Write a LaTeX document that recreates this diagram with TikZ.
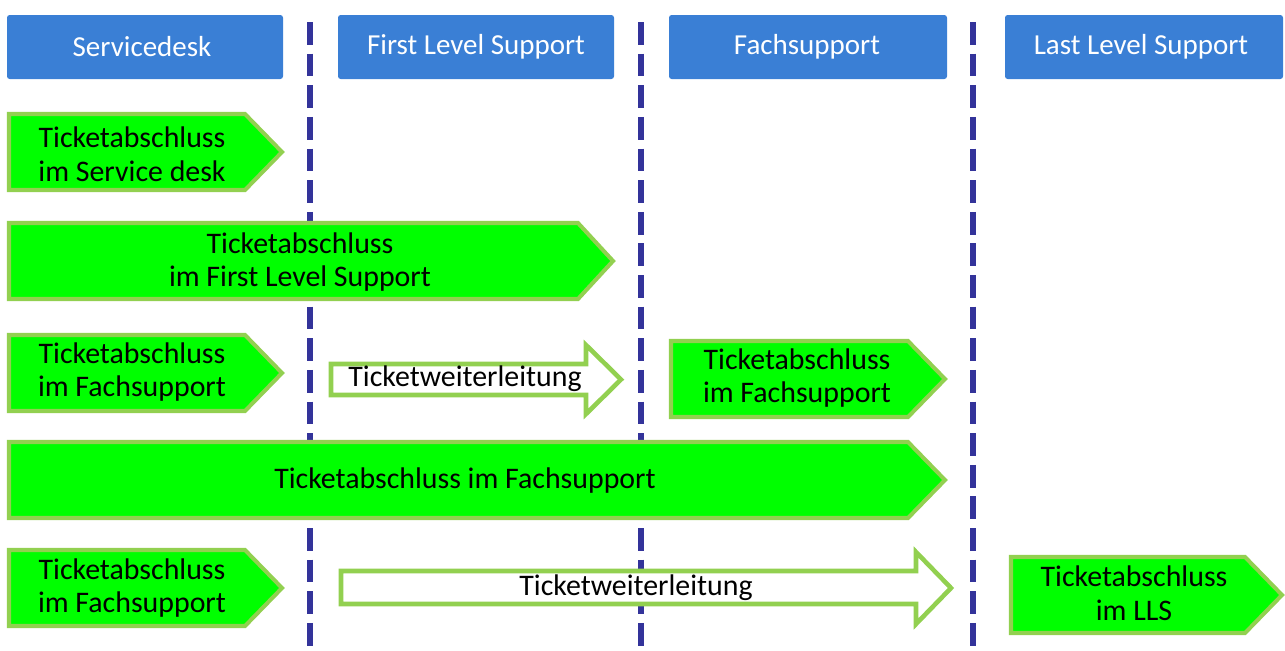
\documentclass[tikz,border=0pt]{standalone}
\usepackage{fontspec}
\setmainfont{Carlito}
\definecolor{hdrblue}{HTML}{3A7FD5}
\definecolor{sepblue}{HTML}{33339A}
\definecolor{boxgreen}{HTML}{00FF00}
\definecolor{edgegreen}{HTML}{92D050}
\begin{document}
\begin{tikzpicture}[x=0.02cm,y=-0.02cm,
  hdr/.style={fill=hdrblue,draw=none,rounded corners=1.5pt},
  hdrtext/.style={text=white,font=\fontsize{16.5}{19}\selectfont,inner sep=0pt},
  sep/.style={draw=sepblue,line width=3.4pt,dash pattern=on 13pt off 5pt},
  gbox/.style={fill=boxgreen,draw=edgegreen,line width=2.3pt,line join=miter},
  warrow/.style={fill=white,draw=edgegreen,line width=2.6pt,line join=miter},
  btext/.style={text=black,font=\fontsize{17}{19.3}\selectfont,align=center,inner sep=0pt}]
\useasboundingbox (0,0) rectangle (1285,650);
% headers
\fill[hdr] (7,15) rectangle (283,79);
\fill[hdr] (338,15) rectangle (614,79);
\fill[hdr] (669,15) rectangle (947,79);
\fill[hdr] (1005,15) rectangle (1283,79);
\node[hdrtext] (h1) at (142,47) {Servicedesk};
\node[hdrtext] (h2) at (476,47) {First Level Support};
\node[hdrtext] (h3) at (807,47) {Fachsupport};
\node[hdrtext] (h4) at (1141,47) {Last Level Support};
% separators
\coordinate (s1t) at (310,22); \coordinate (s1b) at (310,652);
\coordinate (s2t) at (641,22); \coordinate (s2b) at (641,652);
\coordinate (s3t) at (973,22); \coordinate (s3b) at (973,652);
\draw[sep] (s1t) -- (s1b);
\draw[sep] (s2t) -- (s2b);
\draw[sep] (s3t) -- (s3b);
% row 1
\draw[gbox] (9,114) -- (245,114) -- (282,152) -- (245,190) -- (9,190) -- cycle;
\node[btext] (r1) at (132,154) {Ticketabschluss\\im Service desk};
% row 2
\draw[gbox] (9,223) -- (578,223) -- (613,261) -- (578,299) -- (9,299) -- cycle;
\node[btext] (r2) at (300,262) {Ticketabschluss\\im First Level Support};
% row 3
\draw[gbox] (9,335) -- (245,335) -- (282,373) -- (245,411) -- (9,411) -- cycle;
\node[btext] (r3a) at (132,372) {Ticketabschluss\\im Fachsupport};
\draw[warrow] (331,364) -- (586,364) -- (586,345) -- (621,379.5) -- (586,414) -- (586,395) -- (331,395) -- cycle;
\node[btext] (r3b) at (465,379) {Ticketweiterleitung};
\draw[gbox] (671,341) -- (908,341) -- (945,379) -- (908,417) -- (671,417) -- cycle;
\node[btext] (r3c) at (797,378) {Ticketabschluss\\im Fachsupport};
% row 4
\draw[gbox] (9,442) -- (908,442) -- (945,480) -- (908,518) -- (9,518) -- cycle;
\node[btext] (r4) at (465,481) {Ticketabschluss im Fachsupport};
% row 5
\draw[gbox] (9,550) -- (245,550) -- (282,588) -- (245,626) -- (9,626) -- cycle;
\node[btext] (r5a) at (132,588) {Ticketabschluss\\im Fachsupport};
\draw[warrow] (341,571) -- (916,571) -- (916,552) -- (951,588) -- (916,624) -- (916,604) -- (341,604) -- cycle;
\node[btext] (r5b) at (636,588) {Ticketweiterleitung};
\draw[gbox] (1011,557) -- (1245,557) -- (1282,595) -- (1245,633) -- (1011,633) -- cycle;
\node[btext] (r5c) at (1134,593) {Ticketabschluss\\im LLS};
\end{tikzpicture}
\end{document}
